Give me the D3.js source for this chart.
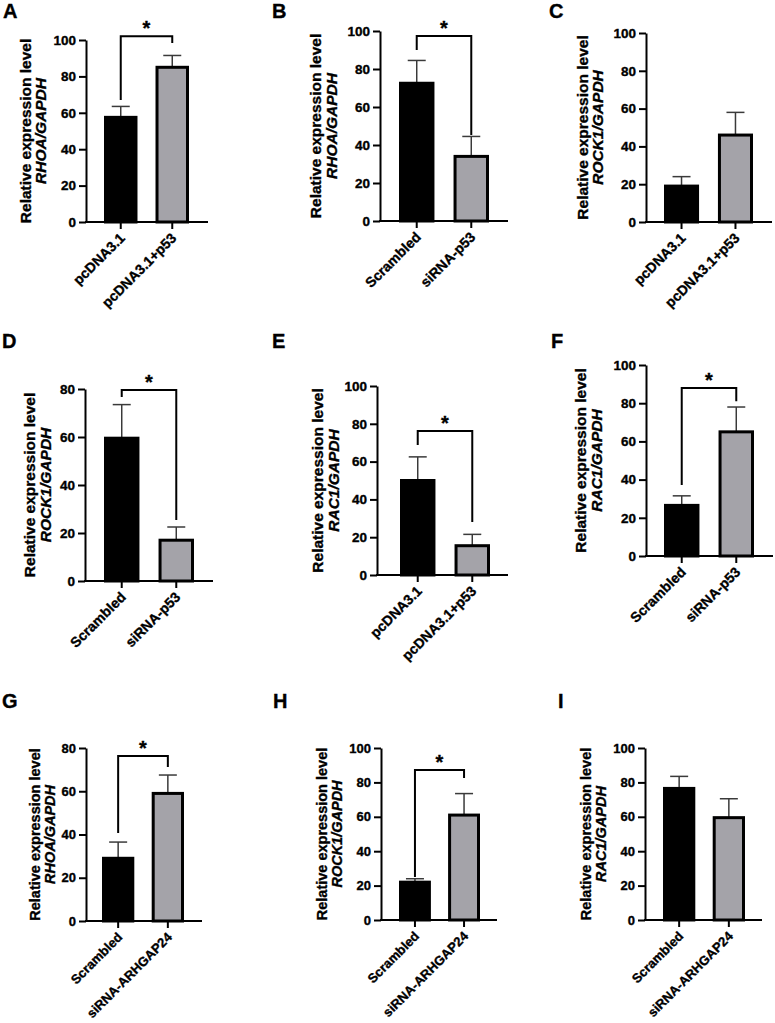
<!DOCTYPE html>
<html><head><meta charset="utf-8">
<script src="https://cdn.jsdelivr.net/npm/d3@7"></script>
<style>
body{margin:0;background:#fff}
svg{display:block}
text{font-family:"Liberation Sans",Arial,Helvetica,sans-serif;font-weight:bold;fill:#000;stroke:#000;stroke-width:0.35px}
</style>
</head><body>
<svg id="c" width="775" height="1023"></svg>
<script>
// ---- data ----
const panelLetters = ["A","B","C","D","E","F","G","H","I"];
const groupLabels = [
  ["pcDNA3.1","pcDNA3.1+p53"],
  ["Scrambled","siRNA-p53"],
  ["pcDNA3.1","pcDNA3.1+p53"],
  ["Scrambled","siRNA-p53"],
  ["pcDNA3.1","pcDNA3.1+p53"],
  ["Scrambled","siRNA-p53"],
  ["Scrambled","siRNA-ARHGAP24"],
  ["Scrambled","siRNA-ARHGAP24"],
  ["Scrambled","siRNA-ARHGAP24"]
];
const genes = ["RHOA","RHOA","ROCK1","ROCK1","RAC1","RAC1","RHOA","ROCK1","RAC1"];
const means = [[57.5,85],[72.5,34],[19,46],[59.5,17],[50,15.5],[26.5,65],[29,59],[22,61],[76.5,59.5]];
const errs  = [[6,6.5],[12,10.5],[5,12],[14,5.5],[12.5,6],[5,13],[7.5,8.5],[2,12.5],[7,11]];
const yMaxes = [100,100,100,80,100,100,80,100,100];
const bracketLevel = [102,97.4,null,79.6,76.2,88,76.3,87.2,null];
const bracketLeft  = [67,90,null,76.7,68.8,37.2,40.7,25,null];
const bracketRight = [98.4,45.3,null,25.4,28,81,71.2,82.6,null];
const sigLabels = ["*","*","","*","*","*","*","*",""];
const yTitle = "Relative expression level";

// ---- layout ----
const layout = [
 {ax:86, ax2:208, top:40, bot:222, b0:104, b1:189, t1:30.5, t2:45.5, lx:3, ly:18},
 {ax:380,ax2:508, top:31, bot:221, b0:399, b1:489, t1:320.5, t2:336.5, lx:272, ly:18},
 {ax:646,ax2:772, top:33, bot:222, b0:664, b1:753, t1:587.5, t2:602.5, lx:549, ly:18},
 {ax:85, ax2:213, top:389,bot:581, b0:104, b1:194, t1:34.5, t2:50.5, lx:2, ly:347.5},
 {ax:377,ax2:508, top:386,bot:575, b0:400, b1:490, t1:323, t2:338.5, lx:272, ly:347.5},
 {ax:646,ax2:773, top:365,bot:556, b0:664, b1:754, t1:586, t2:601.5, lx:551, ly:347.5},
 {ax:86, ax2:202, top:748,bot:921, b0:102, b1:184, t1:40, t2:54.5, lx:2, ly:707.5},
 {ax:381,ax2:497, top:748,bot:920, b0:399, b1:480, t1:327, t2:341.5, lx:273, ly:707.5},
 {ax:645,ax2:762, top:748,bot:920, b0:663, b1:745, t1:591, t2:605.5, lx:558, ly:707.5}
];
const barColors = ["#000000","#a4a3a9"];

const svg = d3.select("#c");

panelLetters.forEach((L,i)=>{
  const lay = layout[i];
  const row3 = i >= 6;
  const fsTitle = row3 ? 14.5 : 15.5;
  const fsTick = row3 ? 13 : 13.5;
  const fsX = row3 ? 13 : 14;
  const g = svg.append("g");
  const y = d3.scaleLinear().domain([0,yMaxes[i]]).range([lay.bot, lay.top]);
  const x = d3.scaleBand().domain(groupLabels[i]).range([lay.b0, lay.b1]).paddingInner(0.35).paddingOuter(0);
  const data = groupLabels[i].map((c,j)=>({c, m:means[i][j], e:errs[i][j], j}));

  // error bars (upper only)
  const eb = g.selectAll("g.eb").data(data).join("g").attr("class","eb");
  eb.append("line")
    .attr("x1",d=>x(d.c)+x.bandwidth()/2).attr("x2",d=>x(d.c)+x.bandwidth()/2)
    .attr("y1",d=>y(d.m)).attr("y2",d=>y(d.m+d.e))
    .attr("stroke","#3a3a3a").attr("stroke-width",1.5);
  eb.append("line")
    .attr("x1",d=>x(d.c)+x.bandwidth()/2-9).attr("x2",d=>x(d.c)+x.bandwidth()/2+9)
    .attr("y1",d=>y(d.m+d.e)).attr("y2",d=>y(d.m+d.e))
    .attr("stroke","#3a3a3a").attr("stroke-width",1.5);

  // bars
  g.selectAll("rect.bar").data(data).join("rect").attr("class","bar")
    .attr("x",d=>x(d.c)+1.5).attr("width",x.bandwidth()-3)
    .attr("y",d=>y(d.m)).attr("height",d=>y(0)-y(d.m))
    .attr("fill",d=>barColors[d.j]).attr("stroke","#000").attr("stroke-width",3);

  // y axis
  const ya = g.append("g").attr("transform",`translate(${lay.ax},0)`)
    .call(d3.axisLeft(y).tickValues(d3.range(0,yMaxes[i]+1,20)).tickSize(7).tickSizeOuter(0).tickPadding(3));
  ya.select(".domain").attr("stroke","#000").attr("stroke-width",2);
  ya.selectAll(".tick line").attr("stroke","#000").attr("stroke-width",2);
  ya.selectAll(".tick text").style("font-size",fsTick+"px").attr("fill",null);

  // x axis
  g.append("line").attr("x1",lay.ax-1).attr("x2",lay.ax2).attr("y1",y(0)).attr("y2",y(0))
    .attr("stroke","#000").attr("stroke-width",2);
  const xa = g.append("g").attr("transform",`translate(0,${y(0)})`)
    .call(d3.axisBottom(x).tickSize(7).tickSizeOuter(0).tickFormat(""));
  xa.select(".domain").remove();
  xa.selectAll(".tick line").attr("stroke","#000").attr("stroke-width",2);
  g.selectAll("text.xl").data(groupLabels[i]).join("text").attr("class","xl")
    .attr("text-anchor","end")
    .style("font-size",fsX+"px")
    .attr("transform",d=>`translate(${x(d)+x.bandwidth()/2+5},${y(0)+17}) rotate(-45)`)
    .text(d=>d);

  // y title
  const cy = (lay.top+lay.bot)/2;
  g.append("text").attr("text-anchor","middle").style("font-size",fsTitle+"px")
    .attr("transform",`translate(${lay.t1},${cy}) rotate(-90)`).text(yTitle);
  g.append("text").attr("text-anchor","middle").style("font-size",fsTitle+"px").style("font-style","italic")
    .attr("transform",`translate(${lay.t2},${cy}) rotate(-90)`).text(genes[i]+"/GAPDH");

  // significance bracket
  if (bracketLevel[i] !== null) {
    const xl = x(groupLabels[i][0])+x.bandwidth()/2, xr = x(groupLabels[i][1])+x.bandwidth()/2;
    const path = d3.path();
    path.moveTo(xl, y(bracketLeft[i]));
    path.lineTo(xl, y(bracketLevel[i]));
    path.lineTo(xr, y(bracketLevel[i]));
    path.lineTo(xr, y(bracketRight[i]));
    g.append("path").attr("d",path.toString()).attr("fill","none").attr("stroke","#000").attr("stroke-width",2);
    g.append("text").attr("text-anchor","middle").style("font-size","20px")
      .attr("x",(xl+xr)/2).attr("y",y(bracketLevel[i])-1).text(sigLabels[i]);
  }

  // panel letter
  g.append("text").attr("x",lay.lx).attr("y",lay.ly).style("font-size","20px").text(L);
});
</script>
</body></html>
